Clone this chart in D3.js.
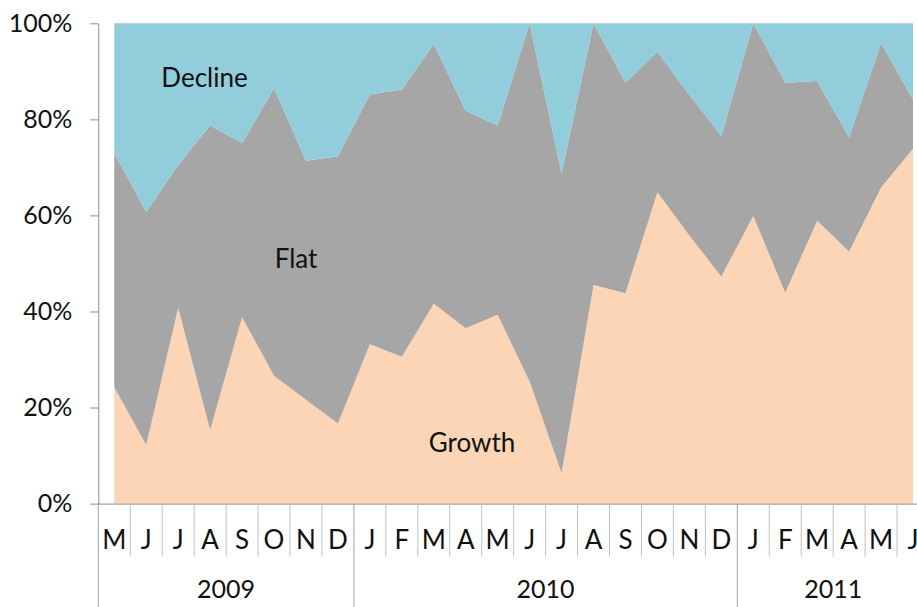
<!DOCTYPE html>
<html>
<head>
<meta charset="utf-8">
<script src="https://cdn.jsdelivr.net/npm/d3@7"></script>
<style>
  body { margin: 0; background: #fff; }
  text { font-family: Lato, "Open Sans", sans-serif; fill: #111; }
</style>
</head>
<body>
<div id="chart"></div>
<script>
// categories (May 2009 .. June 2011)
const months = ["M","J","J","A","S","O","N","D",
                "J","F","M","A","M","J","J","A","S","O","N","D",
                "J","F","M","A","M","J"];
const yearLabels = ["2009", "2010", "2011"];
const yearStart = [0, 8, 20];
const yearEnd = [8, 20, 26];

// shares in percent
const growth  = [24.2,12.2,40.7,15.3,38.8,26.6,21.6,16.7,33.2,30.6,41.6,36.5,39.3,25.4,6.3,45.5,43.8,64.8,55.8,47.3,59.9,43.9,58.9,52.5,65.8,73.9];
const flat    = [48.8,48.5,29.8,63.4,36.3,59.9,49.8,55.6,52.0,55.6,54.1,45.3,39.4,74.6,62.5,54.5,43.8,29.3,29.3,29.3,40.1,43.7,29.1,23.8,30.1,10.3];
const decline = [27.0,39.3,29.5,21.3,24.9,13.5,28.6,27.7,14.8,13.8,4.3,18.2,21.3,0.0,31.2,0.0,12.4,5.9,14.9,23.4,0.0,12.4,12.0,23.7,4.1,15.8];

const yTicks = [0, 0.2, 0.4, 0.6, 0.8, 1];

const width = 917, height = 607;
const plotLeft = 98.3, step = 31.95, plotTop = 23.3, plotBottom = 503.6;

const svg = d3.select("#chart").append("svg")
    .attr("width", width)
    .attr("height", height);

let rows = months.map((m, i) => ({i: i, Growth: growth[i], Flat: flat[i], Decline: decline[i]}));
let keys = ["Growth", "Flat", "Decline"];
let colors = {Growth: "#fbd5b5", Flat: "#a6a6a6", Decline: "#92cddc"};

let x = d3.scaleBand()
    .domain(d3.range(months.length))
    .range([plotLeft, plotLeft + step * months.length])
    .padding(0);
let y = d3.scaleLinear()
    .domain([0, 1])
    .range([plotBottom, plotTop]);

let series = d3.stack().keys(keys).offset(d3.stackOffsetExpand)(rows);

let area = d3.area()
    .x(d => x(d.data.i) + x.bandwidth() / 2)
    .y0(d => y(d[0]))
    .y1(d => y(d[1]));

svg.append("g").selectAll("path")
    .data(series)
    .enter()
    .append("path")
    .attr("d", area)
    .attr("fill", d => colors[d.key]);

// y axis
let yaxis = d3.axisLeft(y)
    .tickValues(yTicks)
    .tickFormat(d3.format(".0%"))
    .tickSize(8)
    .tickSizeOuter(0)
    .tickPadding(18);
let yg = svg.append("g")
    .attr("transform", `translate(${plotLeft},0)`)
    .call(yaxis);
yg.selectAll("text").style("font-size", "25px").style("font-family", "Lato, sans-serif").attr("fill", "#111");
yg.selectAll("line, path").attr("stroke", "#8c8c8c");

// x axis: month labels
let xaxis = d3.axisBottom(x)
    .tickFormat(i => months[i])
    .tickSize(0)
    .tickSizeOuter(0)
    .tickPadding(0);
let xg = svg.append("g")
    .attr("transform", `translate(0,${plotBottom})`)
    .call(xaxis);
xg.select(".domain").attr("stroke", "#8c8c8c");
xg.selectAll("text")
    .attr("dy", null)
    .attr("y", 45)
    .style("font-size", "26px")
    .style("font-family", "Lato, sans-serif")
    .attr("fill", "#111");

// category separators, year separators reach the bottom
let bounds = d3.range(months.length + 1);
let isYearEdge = i => yearStart.includes(i) || yearEnd.includes(i);
svg.append("g").selectAll("line")
    .data(bounds)
    .enter()
    .append("line")
    .attr("x1", i => plotLeft + i * x.step())
    .attr("x2", i => plotLeft + i * x.step())
    .attr("y1", plotBottom)
    .attr("y2", i => isYearEdge(i) ? height : plotBottom + 53)
    .attr("stroke", i => isYearEdge(i) ? "#a0a0a0" : "#c0c0c0")
    .attr("stroke-width", 1);

// year labels
svg.append("g").selectAll("text")
    .data(yearLabels)
    .enter()
    .append("text")
    .attr("x", (d, k) => (plotLeft + yearStart[k] * x.step() + plotLeft + yearEnd[k] * x.step()) / 2)
    .attr("y", 598)
    .attr("text-anchor", "middle")
    .style("font-size", "25px")
    .text(d => d);

// series names inside the areas
let seriesLabels = [
  {name: "Decline", cx: 204.5, cy: 87},
  {name: "Flat", cx: 296, cy: 267.5},
  {name: "Growth", cx: 472, cy: 451.5}
];
svg.append("g").selectAll("text")
    .data(seriesLabels)
    .enter()
    .append("text")
    .attr("x", d => d.cx)
    .attr("y", d => d.cy)
    .attr("text-anchor", "middle")
    .style("font-size", "26px")
    .text(d => d.name);
</script>
</body>
</html>
